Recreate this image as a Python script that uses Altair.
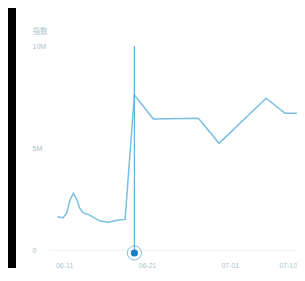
import altair as alt
import pandas as pd

# x = days since 06-11, y = index value
days = [-0.81, -0.12, 0.30, 0.72, 1.12, 1.51, 1.87, 2.26, 3.02, 4.34, 5.34, 6.55, 7.36,
        8.48, 10.77, 16.20, 18.70, 24.37, 26.66, 28.19]
values = [1.63e6, 1.58e6, 1.81e6, 2.45e6, 2.78e6, 2.50e6, 2.06e6, 1.83e6, 1.72e6, 1.42e6,
          1.36e6, 1.47e6, 1.50e6, 7.60e6, 6.42e6, 6.46e6, 5.23e6, 7.44e6, 6.70e6, 6.70e6]
selected_index = 13

tick_days = [0, 10, 20, 27.0]
tick_labels = ["06-11", "06-21", "07-01", "07-10"]
y_ticks = [0, 5e6, 10e6]
y_title = "指数"

W, H = 247, 204
PAD = {"left": 42, "top": 38, "right": 0, "bottom": 18}
TEXT = "#a9bfcd"
LINE = "#78bfe2"

df = pd.DataFrame({"day": days, "value": values})
sel = df.iloc[[selected_index]].reset_index(drop=True)

label_expr = " : ".join(
    f"datum.value == {d} ? '{l}'" for d, l in zip(tick_days, tick_labels)
) + " : ''"

xs = alt.Scale(domain=[-1.7, 28.1], nice=False, zero=False)
ys = alt.Scale(domain=[0, 10e6], nice=False)

x_axis = alt.Axis(values=tick_days, labelExpr=label_expr, title=None, grid=False,
                  ticks=False, tickSize=0, labelPadding=11, domainColor="#eef3f6",
                  labelColor=TEXT, labelFontSize=7, labelFont="Liberation Sans")
y_axis = alt.Axis(values=y_ticks,
                  labelExpr="datum.value == 0 ? '0' : (datum.value / 1000000) + 'M'",
                  grid=False, ticks=False, tickSize=0, domain=False,
                  labelAlign="left", labelPadding=18, labelColor=TEXT, labelFontSize=7,
                  labelFont="Liberation Sans",
                  title=y_title, titleAngle=0, titleAlign="left", titleBaseline="middle",
                  titleX=-18, titleY=-15, titleColor=TEXT, titleFontSize=7.5,
                  titleFontWeight="normal", titleFont="Noto Sans CJK SC")

base = alt.Chart(df)

strip = alt.Chart(sel).mark_rect(color="#000000").encode(
    x=alt.value(-PAD["left"]), x2=alt.value(-PAD["left"] + 8),
    y=alt.value(-PAD["top"]), y2=alt.value(H + PAD["bottom"])
)

line = base.mark_line(color=LINE, strokeWidth=1.5).encode(
    x=alt.X("day:Q", scale=xs, axis=x_axis),
    y=alt.Y("value:Q", scale=ys, axis=y_axis),
)

rule = alt.Chart(sel).mark_rule(color="#5cb3e3", strokeWidth=1.2).encode(
    x=alt.X("day:Q", scale=xs),
    y=alt.datum(10e6),
    y2=alt.datum(0),
)

ring = alt.Chart(sel).mark_point(filled=False, shape="circle", size=200,
                                 color="#6aaedb", strokeWidth=1, opacity=0.8).encode(
    x=alt.X("day:Q", scale=xs),
    y=alt.datum(0),
    yOffset=alt.value(3),
)

dot = alt.Chart(sel).mark_circle(size=50, color="#1b7ec2", opacity=1).encode(
    x=alt.X("day:Q", scale=xs),
    y=alt.datum(0),
    yOffset=alt.value(3),
)

chart = alt.layer(strip, line, rule, ring, dot).properties(
    width=W, height=H,
    autosize=alt.AutoSizeParams(type="none"),
    padding=PAD,
    background="white",
).configure_view(strokeWidth=0, stroke="transparent")

chart.save("out.html", embed_options={"renderer": "svg", "actions": False})
